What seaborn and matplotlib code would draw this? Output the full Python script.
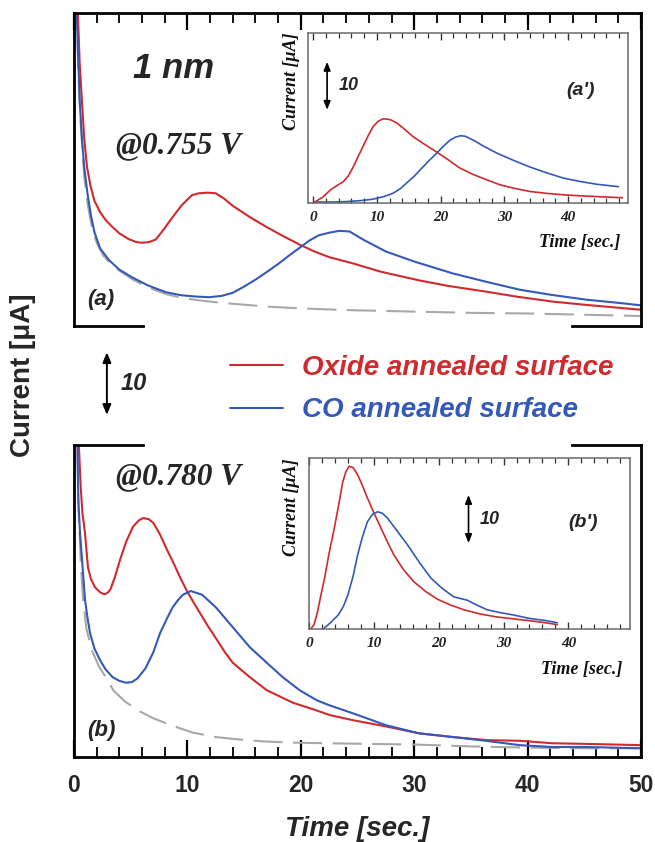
import matplotlib
matplotlib.use("Agg")
import matplotlib.pyplot as plt
import seaborn as sns
from matplotlib.lines import Line2D
from matplotlib.ticker import MultipleLocator

sns.set_style("white")
plt.rcParams["font.family"] = ["Liberation Sans", "DejaVu Sans"]

RED = "#cf2a2e"
BLUE = "#3559b7"
GRAY = "#a8a8a8"
SANS = "Liberation Sans"
SERIF = "Liberation Serif"

# ---- panel (a): 1 nm film at 0.755 V -------------------------------------
t_a_red = [0.3, 0.5, 0.7, 0.9, 1.15, 1.45, 1.8, 2.3, 2.8, 3.4, 4.0, 4.8, 5.5, 6.0,
           6.6, 7.2, 7.9, 8.7, 9.5, 10.4, 11.0, 11.8, 12.5, 13.2, 14.0, 15.5, 16.9,
           18.4, 19.9, 21.2, 22.5, 24.6, 27.0, 30.4, 33.0, 36.3, 39.0, 42.2, 45.0,
           48.1, 50.0]
i_a_red = [52, 42, 36, 30, 25.4, 22.4, 20.0, 18.2, 16.9, 15.8, 14.8, 13.9, 13.4, 13.3,
           13.4, 13.8, 15.4, 17.4, 19.3, 20.9, 21.2, 21.3, 21.2, 20.4, 19.2, 17.4, 15.9,
           14.4, 13.0, 11.9, 11.0, 10.0, 8.7, 7.3, 6.4, 5.5, 4.7, 3.9, 3.4, 2.9, 2.6]
t_a_blue = [0.2, 0.35, 0.5, 0.7, 0.9, 1.2, 1.5, 1.8, 2.3, 3.1, 4.0, 5.1, 6.5, 8.1, 9.5,
            10.8, 11.9, 13.0, 14.0, 15.0, 16.0, 16.9, 18.0, 19.0, 19.9, 20.8, 21.6,
            22.5, 23.4, 24.3, 25.5, 27.5, 30.0, 33.4, 36.5, 39.3, 42.0, 45.2, 48.0, 50.0]
i_a_blue = [52, 44, 36, 30, 25.4, 21.0, 17.6, 15.0, 12.4, 10.5, 9.0, 7.8, 6.5, 5.4, 4.9,
            4.7, 4.6, 4.8, 5.3, 6.3, 7.4, 8.5, 9.9, 11.3, 12.5, 13.7, 14.5, 14.9, 15.2,
            15.1, 13.8, 11.9, 10.3, 8.4, 7.0, 5.8, 5.0, 4.2, 3.7, 3.3]
t_a_gray = [0.2, 0.4, 0.6, 0.9, 1.2, 1.6, 2.0, 2.6, 3.3, 4.2, 5.2, 6.5, 8.1, 9.5, 11.0,
            13.0, 15.0, 17.0, 19.0, 21.6, 25.0, 30.0, 35.0, 40.0, 45.0, 50.0]
i_a_gray = [52, 40, 32, 24, 19.5, 15.6, 13.3, 11.2, 9.8, 8.6, 7.4, 6.2, 5.1, 4.5, 4.1,
            3.7, 3.4, 3.1, 2.9, 2.7, 2.5, 2.3, 2.1, 2.0, 1.8, 1.6]

# ---- panel (b): 1 nm film at 0.780 V -------------------------------------
t_b_red = [0.3, 0.45, 0.6, 0.75, 0.97, 1.23, 1.5, 1.85, 2.3, 2.5, 2.73, 2.95, 3.2, 3.6,
           4.06, 4.6, 5.2, 5.7, 6.1, 6.6, 7.0, 7.6, 8.2, 8.8, 9.35, 9.9, 10.5, 11.1,
           11.8, 12.6, 13.3, 14.0, 15.5, 17.0, 19.3, 21.0, 22.6, 24.6, 27.5, 30.4,
           33.4, 36.4, 39.3, 42.2, 45.2, 50.0]
i_b_red = [55, 49, 43, 39, 35.9, 30.4, 28.5, 27.2, 26.4, 26.2, 26.1, 26.3, 26.8, 28.8,
           31.6, 34.5, 36.9, 37.9, 38.3, 38.1, 37.5, 35.6, 33.2, 31.0, 28.8, 26.8, 24.9,
           23.1, 21.0, 18.8, 16.8, 15.1, 12.8, 10.7, 8.7, 7.7, 6.7, 5.9, 4.9, 3.8, 3.2,
           2.7, 2.6, 2.2, 2.1, 1.9]
t_b_blue = [0.25, 0.38, 0.53, 0.76, 0.97, 1.2, 1.41, 1.8, 2.3, 2.8, 3.4, 4.0, 4.6, 5.1,
            5.6, 6.3, 7.0, 7.6, 8.2, 8.7, 9.2, 9.6, 10.3, 11.3, 12.5, 14.0, 15.5, 17.0,
            18.4, 19.9, 21.4, 22.5, 24.6, 27.5, 30.4, 33.4, 36.3, 39.3, 42.2, 45.2, 50.0]
i_b_blue = [55, 41.2, 35.9, 30.4, 25.2, 22.2, 19.9, 17.4, 15.5, 14.0, 12.8, 12.2, 11.9,
            12.0, 12.6, 14.2, 16.8, 19.9, 22.2, 24.0, 25.2, 26.0, 26.6, 26.0, 24.0, 20.8,
            17.6, 15.1, 12.8, 10.7, 9.1, 8.3, 7.0, 5.1, 3.8, 3.2, 2.6, 1.9, 1.6, 1.6, 1.4]
t_b_gray = [0.25, 0.4, 0.6, 0.8, 1.1, 1.6, 2.2, 2.8, 3.5, 4.5, 5.7, 7.0, 8.7, 10.5, 12.5,
            14.6, 16.7, 19.3, 22.5, 26.0, 30.0, 35.0, 40.0, 45.0, 50.0]
i_b_gray = [55, 40, 31, 25.2, 20.5, 17.0, 14.5, 12.8, 10.6, 8.9, 7.4, 6.2, 5.0, 3.9, 3.2,
            2.8, 2.5, 2.3, 2.2, 2.1, 2.0, 1.7, 1.5, 1.4, 1.4]

# ---- inset (a'): background-subtracted transients at 0.755 V -------------
t_ai_red = [0.0, 1.5, 2.7, 3.7, 4.7, 5.5, 6.3, 7.0, 7.8, 8.6, 9.4, 10.2, 10.9, 11.5,
            12.2, 13.2, 14.4, 15.7, 17.5, 19.4, 21.2, 23.0, 25.0, 27.3, 29.3, 31.4,
            34.0, 36.7, 39.3, 41.9, 45.0, 48.5]
i_ai_red = [0.0, 1.2, 2.7, 3.6, 4.4, 5.6, 7.5, 9.5, 11.7, 13.9, 15.9, 17.0, 17.5, 17.5,
            17.3, 16.6, 15.3, 13.8, 12.2, 10.6, 9.0, 7.3, 6.0, 4.8, 3.8, 3.1, 2.4, 2.0,
            1.7, 1.5, 1.3, 1.1]
t_ai_blue = [0.5, 3.0, 5.3, 7.5, 9.4, 11.0, 12.5, 13.7, 14.7, 15.8, 16.8, 18.1, 19.4,
             20.5, 21.5, 22.3, 23.1, 23.9, 25.1, 26.8, 28.8, 31.4, 34.0, 36.6, 39.2,
             41.8, 44.5, 47.9]
i_ai_blue = [0.2, 0.2, 0.3, 0.5, 0.8, 1.3, 2.0, 3.0, 4.2, 5.5, 6.9, 8.7, 10.4, 11.9,
             13.1, 13.7, 14.0, 13.9, 13.1, 11.8, 10.4, 8.9, 7.5, 6.3, 5.2, 4.5, 3.9, 3.4]

# ---- inset (b'): background-subtracted transients at 0.780 V -------------
t_bi_red = [0.3, 0.8, 1.3, 1.8, 2.4, 3.1, 3.9, 4.6, 5.2, 5.7, 6.2, 6.8, 7.5, 8.2, 9.0,
            10.0, 11.1, 12.1, 13.1, 14.6, 16.2, 18.0, 19.8, 21.8, 23.9, 26.5, 29.0,
            31.6, 34.2, 36.5, 38.3]
i_bi_red = [0.0, 1.0, 3.5, 6.8, 10.6, 15.8, 21.0, 26.0, 30.6, 32.8, 33.9, 33.6, 32.1,
            30.0, 27.3, 24.2, 21.0, 18.1, 15.4, 12.3, 9.8, 7.8, 6.2, 5.0, 4.0, 3.1, 2.5,
            2.1, 1.7, 1.3, 0.9]
t_bi_blue = [2.2, 3.3, 4.5, 5.3, 6.0, 6.8, 7.5, 8.2, 9.0, 9.8, 10.6, 11.3, 12.1, 13.6,
             15.2, 17.0, 18.8, 20.5, 22.3, 24.4, 26.0, 27.5, 29.5, 31.6, 34.0, 36.3, 38.3]
i_bi_blue = [0.0, 1.3, 2.9, 4.7, 7.1, 11.0, 15.4, 19.0, 22.3, 23.9, 24.4, 24.1, 23.1,
             20.4, 17.5, 13.9, 10.6, 8.5, 6.7, 6.0, 4.9, 4.0, 3.4, 2.9, 2.2, 1.8, 1.3]

main_ticks = [0, 10, 20, 30, 40, 50]
main_tick_labels = ["0", "10", "20", "30", "40", "50"]
inset_ticks = [0, 10, 20, 30, 40]
inset_tick_labels = ["0", "10", "20", "30", "40"]
legend_labels = ["Oxide annealed surface", "CO annealed surface"]
scale_bar = 10

W, H = 655, 842
fig = plt.figure(figsize=(W / 100, H / 100), dpi=100)


def box(left, top, right, bottom):
    return [left / W, 1 - bottom / H, (right - left) / W, (bottom - top) / H]


def curves(ax, tr, ir, tb, ib, tg=None, ig=None, lw=1.5):
    if tg is not None:
        sns.lineplot(x=tg, y=ig, ax=ax, color=GRAY, lw=lw, linestyle=(0, (14, 5)))
    sns.lineplot(x=tr, y=ir, ax=ax, color=RED, lw=lw)
    red_line = ax.lines[-1]
    sns.lineplot(x=tb, y=ib, ax=ax, color=BLUE, lw=lw)
    blue_line = ax.lines[-1]
    ax.set_xlabel("")
    ax.set_ylabel("")
    return red_line, blue_line


def stub(ax, x0, x1, y):
    ax.add_line(Line2D([x0, x1], [y, y], transform=ax.transAxes, color="k", lw=2.0,
                       clip_on=False, solid_capstyle="projecting"))


# ---- main panels -----------------------------------------------------------
ax_a = fig.add_axes(box(74, 13, 641, 326))
ax_b = fig.add_axes(box(74, 445, 641, 757))

red_line, blue_line = curves(ax_a, t_a_red, i_a_red, t_a_blue, i_a_blue, t_a_gray, i_a_gray)
curves(ax_b, t_b_red, i_b_red, t_b_blue, i_b_blue, t_b_gray, i_b_gray)

stub_frac = 69 / 567
for ax, hidden, ypos in ((ax_a, "bottom", 0), (ax_b, "top", 1)):
    ax.set_xlim(0, 50)
    ax.set_ylim(0, 50)
    ax.xaxis.set_major_locator(MultipleLocator(10))
    ax.xaxis.set_minor_locator(MultipleLocator(2))
    for name, sp in ax.spines.items():
        sp.set_color("k")
        sp.set_linewidth(2.0)
    ax.spines[hidden].set_visible(False)
    stub(ax, 0, stub_frac, ypos)
    stub(ax, 1 - stub_frac, 1, ypos)
    ax.tick_params(axis="y", left=False, right=False, labelleft=False)
    ax.tick_params(axis="x", which="major", length=12, width=1.6, color="k")
    ax.tick_params(axis="x", which="minor", length=7, width=1.3, color="k")

ax_a.tick_params(axis="x", which="both", direction="in", top=True, bottom=False,
                 labeltop=False, labelbottom=False)
ax_b.tick_params(axis="x", which="both", direction="in", top=False, bottom=True,
                 labelbottom=True, pad=12)
ax_b.set_xticks(main_ticks, main_tick_labels, fontfamily=SANS, fontweight="bold",
                fontsize=16.5)
ax_b.set_xlabel("Time [sec.]", fontfamily=SANS, fontweight="bold", fontstyle="italic",
                fontsize=20, labelpad=14)

fig.text(23 / W, 1 - 375 / H, "Current [\u03bcA]", rotation=90, ha="center", va="center",
         fontfamily=SANS, fontweight="bold", fontsize=20)

bold_it_sans = dict(fontfamily=SANS, fontweight="bold", fontstyle="italic")
bold_it_serif = dict(fontfamily=SERIF, fontweight="bold", fontstyle="italic")

ax_a.text(5.2, 41.2, "1 nm", fontsize=25, va="center", ha="left", **bold_it_sans)
ax_a.text(3.7, 28.8, "@0.755 V", fontsize=22.5, va="center", ha="left", **bold_it_serif)
ax_a.text(1.2, 4.2, "(a)", fontsize=16, va="center", ha="left", **bold_it_sans)
ax_b.text(3.7, 44.9, "@0.780 V", fontsize=22.5, va="center", ha="left", **bold_it_serif)
ax_b.text(1.2, 4.3, "(b)", fontsize=16, va="center", ha="left", **bold_it_sans)

# scale bar between the panels, in units of the panel current axis
arrow_top = -4.2
ax_a.annotate("", xy=(2.9, arrow_top), xytext=(2.9, arrow_top - scale_bar),
              arrowprops=dict(arrowstyle="<|-|>,head_length=0.6,head_width=0.25",
                              color="k", lw=1.4, shrinkA=0, shrinkB=0),
              annotation_clip=False)
ax_a.text(4.1, arrow_top - scale_bar / 2, "10", fontsize=17, va="center", ha="left",
          clip_on=False, **bold_it_sans)

leg = fig.legend([red_line, blue_line], legend_labels, loc="center left",
                 bbox_to_anchor=(230 / W, 1 - 389 / H), frameon=False,
                 prop=dict(family=SANS, weight="bold", style="italic", size=20),
                 handlelength=1.9, handletextpad=0.7, labelspacing=0.6,
                 borderpad=0, borderaxespad=0)
for txt, col in zip(leg.get_texts(), (RED, BLUE)):
    txt.set_color(col)


# ---- insets ------------------------------------------------------------------
def inset(rect, xlim, ylim, tr, ir, tb, ib, tag, tag_xy, bar_x, bar_top, lab_x):
    ax = fig.add_axes(rect)
    curves(ax, tr, ir, tb, ib, lw=1.2)
    ax.set_xlim(*xlim)
    ax.set_ylim(*ylim)
    for sp in ax.spines.values():
        sp.set_color("#6a6a6a")
        sp.set_linewidth(1.1)
    ax.set_xticks(inset_ticks, inset_tick_labels, fontsize=11, color="#222222",
                  **bold_it_serif)
    ax.xaxis.set_minor_locator(MultipleLocator(2))
    ax.tick_params(axis="x", which="both", direction="in", top=True, bottom=True,
                   color="#333333", pad=6)
    ax.tick_params(axis="x", which="major", length=5, width=1.0)
    ax.tick_params(axis="x", which="minor", length=3.5, width=0.9)
    ax.tick_params(axis="y", left=False, labelleft=False)
    ax.set_xlabel("Time [sec.]", fontsize=13, color="#111111", **bold_it_serif)
    ax.xaxis.set_label_coords(0.975, -0.235)
    ax.xaxis.label.set_ha("right")
    ax.xaxis.label.set_va("center")
    ax.set_ylabel("Current [\u03bcA]", fontsize=13, color="#111111", **bold_it_serif)
    ax.yaxis.set_label_coords(lab_x, 1.0)
    ax.yaxis.label.set_ha("right")
    ax.yaxis.label.set_va("center")
    ax.annotate("", xy=(bar_x, bar_top), xytext=(bar_x, bar_top - scale_bar),
                arrowprops=dict(arrowstyle="<|-|>,head_length=0.5,head_width=0.2",
                                color="k", lw=1.2, shrinkA=0, shrinkB=0))
    ax.text(bar_x + 1.8, bar_top - scale_bar / 2, "10", fontsize=13, va="center",
            ha="left", **bold_it_sans)
    ax.text(tag_xy[0], tag_xy[1], tag, fontsize=14, va="center", ha="center",
            **bold_it_sans)
    return ax


inset(box(308, 33, 628, 203), (-0.8, 49.4), (0, 35.4),
      t_ai_red, i_ai_red, t_ai_blue, i_ai_blue, "(a')", (41.9, 23.5), 2.2, 29.4, -0.05)
inset(box(309, 458, 630, 629), (0, 49.5), (0, 35.6),
      t_bi_red, i_bi_red, t_bi_blue, i_bi_blue, "(b')", (42.3, 22.1), 24.6, 27.9, -0.053)

fig.savefig("out.png", dpi=100)
